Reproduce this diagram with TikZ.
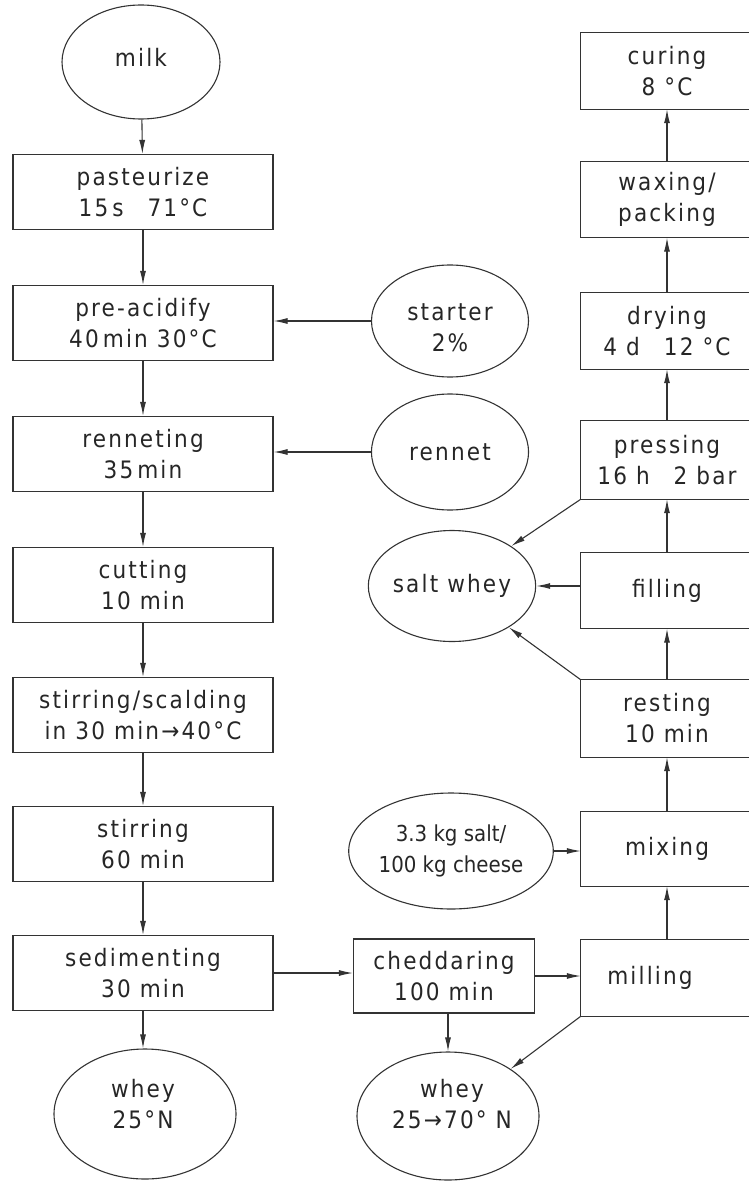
\documentclass[tikz,border=0pt]{standalone}
\usepackage{fontspec}
\setmainfont{DejaVu Sans Condensed}
\newfontfamily\lettfont{DejaVu Sans Condensed}[LetterSpace=9]
\newfontfamily\plainfont{DejaVu Sans Condensed}
\usetikzlibrary{shapes.geometric,arrows.meta}
\begin{document}
\begin{tikzpicture}[x=1pt,y=-1pt,
  every node/.style={text=black!85, align=center, font=\lettfont\fontsize{24}{31}\selectfont},
  stepbox/.style={draw=black!80, line width=1.1pt, rectangle, minimum width=260pt, minimum height=75pt, inner sep=0pt},
  rbox/.style={rectangle, minimum width=172pt, minimum height=76pt, inner sep=0pt},
  oval/.style={draw=black!80, line width=1.1pt, ellipse, inner sep=0pt},
  openbox/.style={draw=black!80, line width=1.1pt},
  arr/.style={draw=black!80, line width=1.1pt, -{Latex[length=14pt,width=6pt]}}
]
\useasboundingbox (0,0) rectangle (748,1182);

% left column
\node[oval, minimum width=158pt, minimum height=114pt] (milk) at (141,62) {};
\node (milkt) at (141,57) {milk};
\node[stepbox] (past) at (143,192) {pasteurize\\15\,s\quad 71°C};
\node[stepbox] (preacid) at (143,323) {pre-acidify\\40\,min 30°C};
\node[stepbox] (renn) at (143,454) {renneting\\35\,min};
\node[stepbox] (cut) at (143,585) {cutting\\10 min};
\node[stepbox] (scald) at (143,715) {stirring/scalding\\in 30 min→40°C};
\node[stepbox] (stir) at (143,844) {stirring\\60 min};
\node[stepbox] (sedim) at (143,973) {sedimenting\\30 min};
\node[oval, minimum width=182pt, minimum height=130pt] (whey1) at (145,1114) {};
\node (whey1t) at (143,1104) {whey\\25°N};

% middle column
\node[oval, minimum width=157pt, minimum height=112pt] (starter) at (450,321) {};
\node (startert) at (450,328) {starter\\2\%};
\node[oval, minimum width=157pt, minimum height=116pt] (rennet) at (450,452) {rennet};
\node[oval, minimum width=157pt, minimum height=111pt] (saltwhey) at (452,586) {salt whey};
\node[oval, minimum width=181pt, minimum height=116pt, font=\plainfont\fontsize{22}{31}\selectfont] (salt) at (451,851) {3.3 kg salt/\\100 kg cheese};
\node[stepbox, minimum width=181pt, minimum height=74pt] (chedd) at (444,976) {cheddaring\\100 min};
\node[oval, minimum width=182pt, minimum height=128pt] (whey2) at (448,1116) {};
\node (whey2t) at (452,1104) {whey\\25→70° N};

% right column (boxes open to the right edge)
\node[rbox] (curing) at (667,71) {curing\\8 °C};
\node[rbox] (waxing) at (667,199.5) {waxing/\\packing};
\node[rbox] (drying) at (667,331) {drying\\4 d\quad 12 °C};
\node[rbox, minimum height=78pt] (pressing) at (667,460) {pressing\\16 h\quad 2 bar};
\node[rbox] (filling) at (667,590.5) {filling};
\node[rbox, minimum height=77pt] (resting) at (667,718.5) {resting\\10 min};
\node[rbox, minimum height=74pt] (mixing) at (667,849) {mixing};
\node[rbox] (milling) at (667,978) {milling\hspace*{34pt}};
\foreach \n in {curing,waxing,drying,pressing,filling,resting,mixing,milling}
  \draw[openbox] ([xshift=30pt]\n.north east) -- (\n.north west) -- (\n.south west) -- ([xshift=30pt]\n.south east);

% connectors, left column
\draw[arr] (milk) -- (past);
\draw[arr] (past) -- (preacid);
\draw[arr] (preacid) -- (renn);
\draw[arr] (renn) -- (cut);
\draw[arr] (cut) -- (scald);
\draw[arr] (scald) -- (stir);
\draw[arr] (stir) -- (sedim);
\draw[arr] (sedim.south) -- (sedim.south |- whey1.north);

% additions
\draw[arr] (starter.west) -- (starter.west -| preacid.east);
\draw[arr] (rennet.west) -- (rennet.west -| renn.east);
\draw[arr] (sedim.east) -- (sedim.east -| chedd.west);
\draw[arr] (chedd.east) -- (chedd.east -| milling.west);
\draw[arr] (chedd.south -| whey2.north) -- (whey2.north);
\draw[arr] (milling.south west) -- (whey2);
\draw[arr] (salt.east) -- (salt.east -| mixing.west);

% right column
\draw[arr] (milling) -- (mixing);
\draw[arr] (mixing) -- (resting);
\draw[arr] (resting) -- (filling);
\draw[arr] (filling) -- (pressing);
\draw[arr] (pressing) -- (drying);
\draw[arr] (drying) -- (waxing);
\draw[arr] (waxing) -- (curing);

% salt whey
\draw[arr] (pressing.south west) -- (saltwhey);
\draw[arr] (saltwhey.east -| filling.west) -- (saltwhey.east);
\draw[arr] (resting.north west) -- (saltwhey);
\end{tikzpicture}
\end{document}
